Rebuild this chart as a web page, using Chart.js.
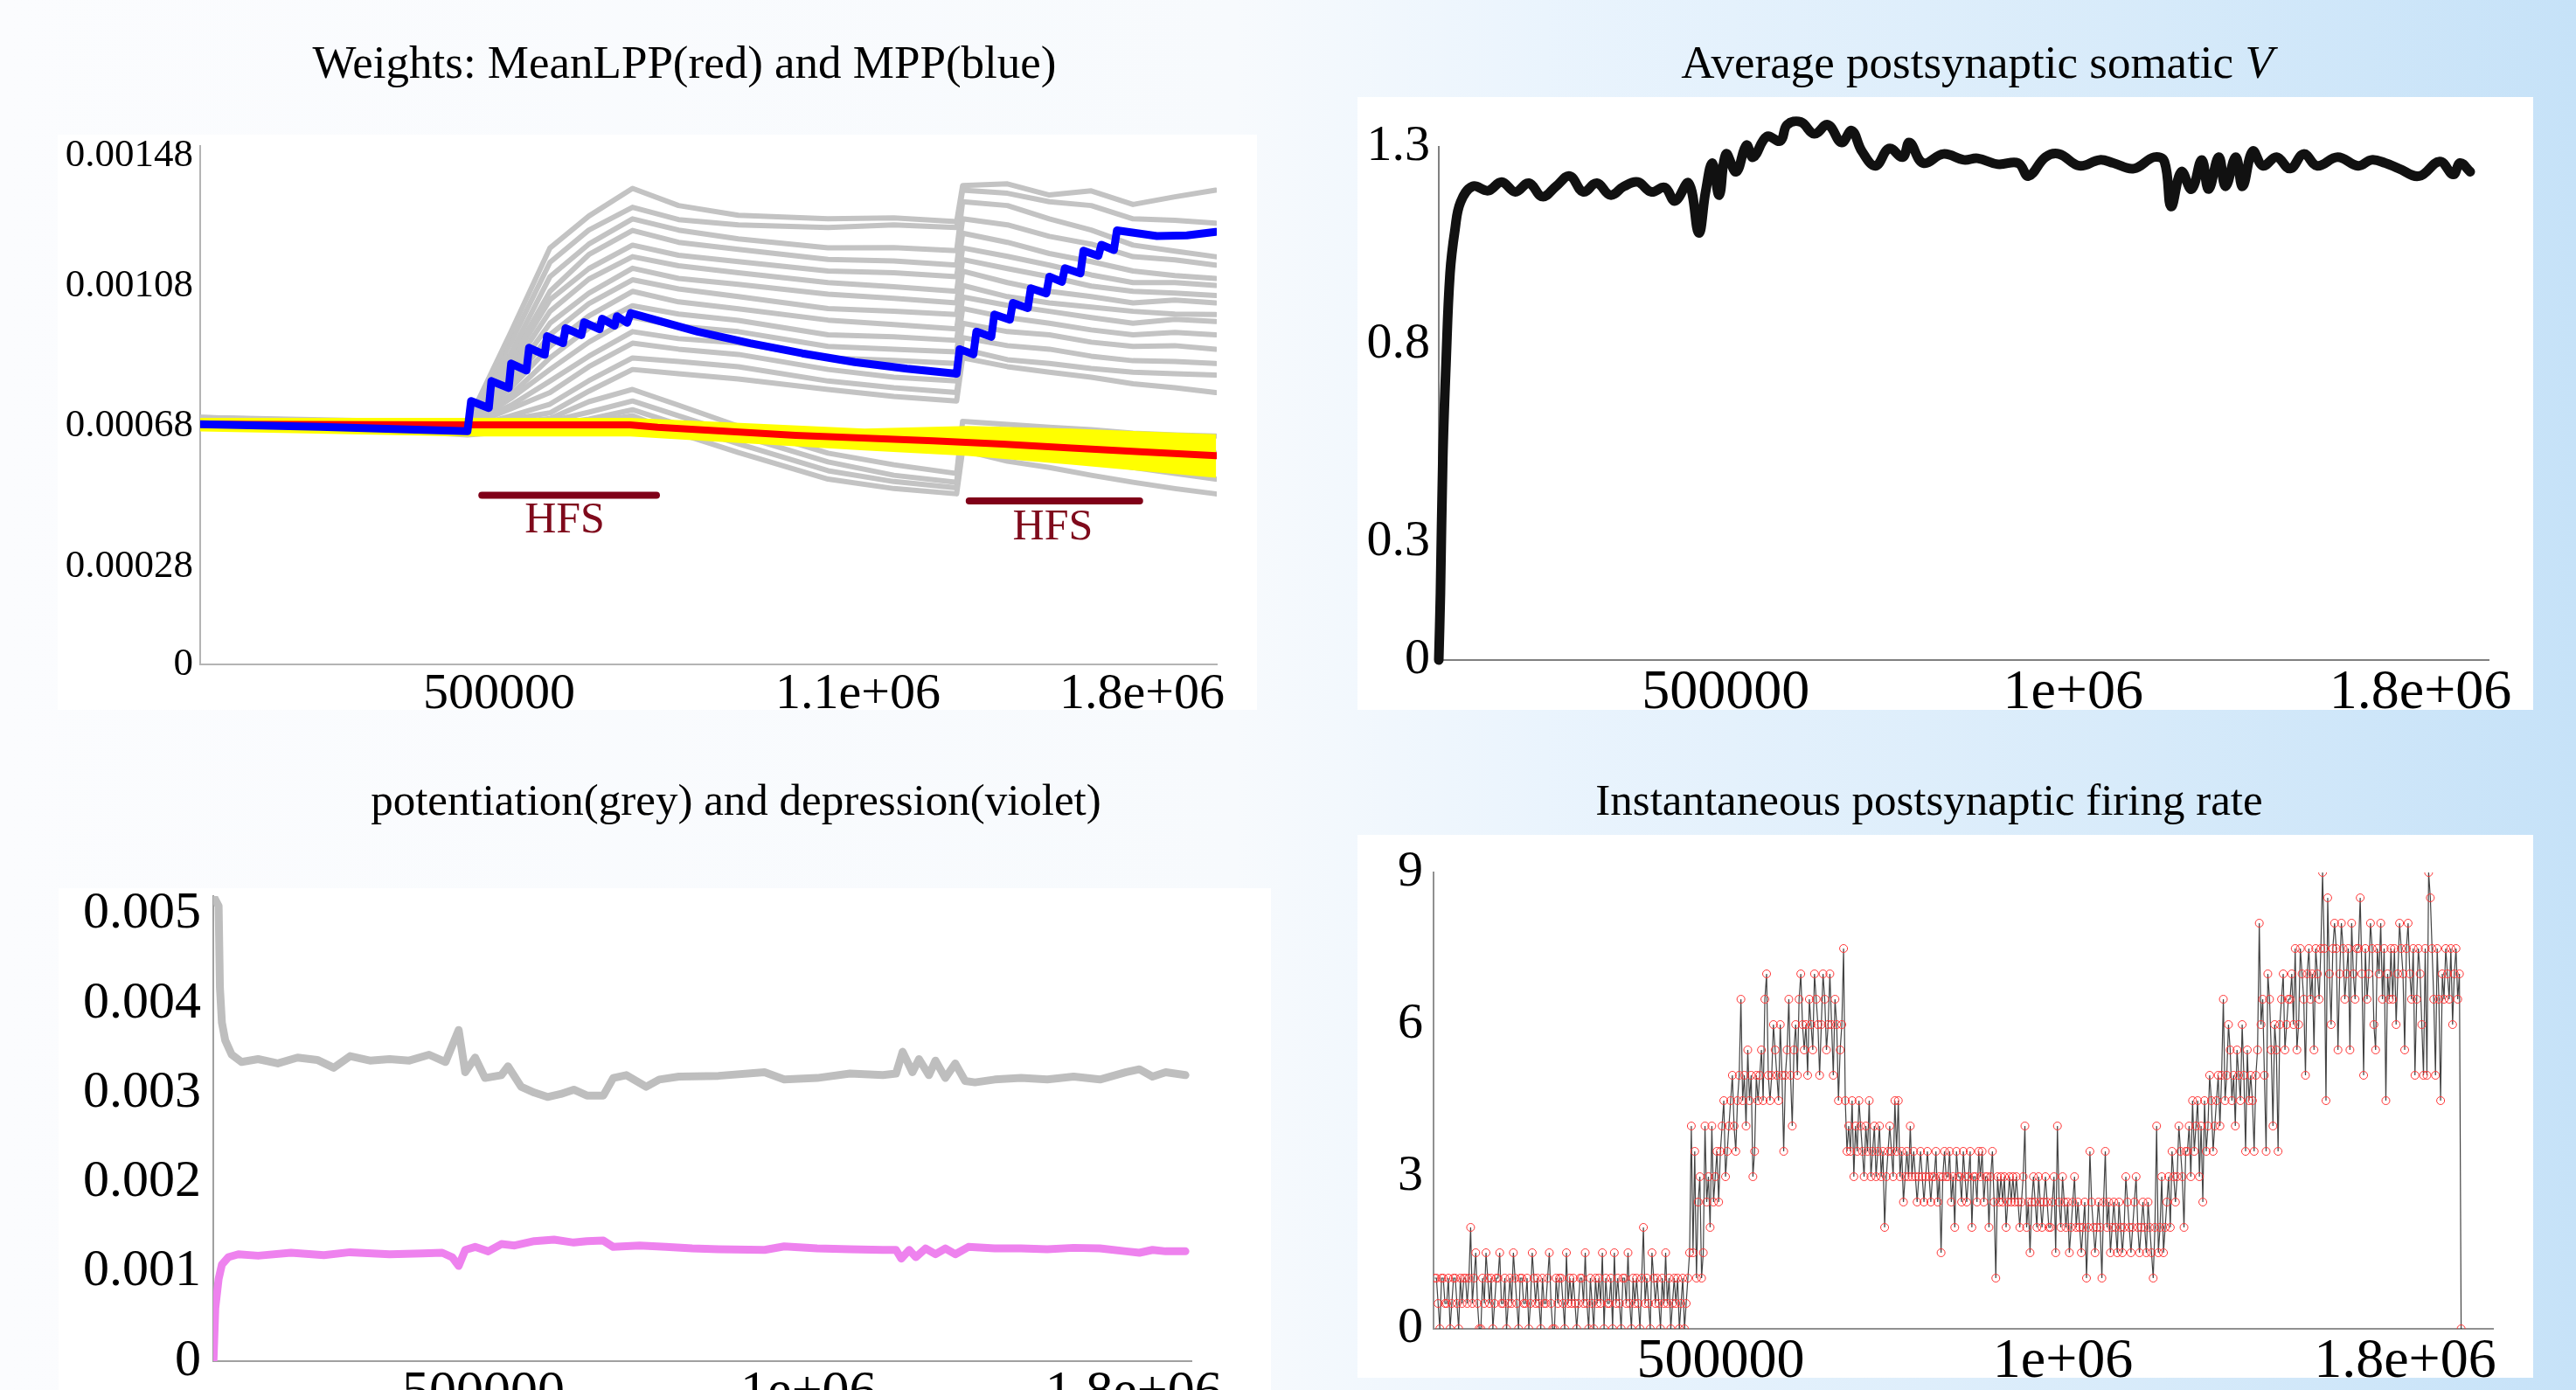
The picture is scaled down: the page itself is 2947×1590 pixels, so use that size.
<!DOCTYPE html>
<html>
<head>
<meta charset="utf-8">
<script src="https://cdn.jsdelivr.net/npm/chart.js@4.4.1/dist/chart.umd.min.js"></script>
<style>
  body {
    margin: 0; width: 2947px; height: 1590px; overflow: hidden; position: relative;
    background: linear-gradient(90deg, #fbfcfe 0%, #f7fafd 48%, #eaf4fd 60%, #d8ebfa 82%, #c6e2f8 100%);
    font-family: 'Liberation Serif', 'Times New Roman', serif;
  }
  .title { position: absolute; width: 1400px; text-align: center; line-height: 52px; color: #000; white-space: nowrap; }
  canvas { position: absolute; background: #fff; }
</style>
</head>
<body>
<div class="title" style="left:83px; top:45px; font-size:53px">Weights: MeanLPP(red) and MPP(blue)</div>
<div class="title" style="left:1562px; top:45px; font-size:53px">Average postsynaptic somatic <i>V</i></div>
<div class="title" style="left:142px; top:889px; font-size:51px">potentiation(grey) and depression(violet)</div>
<div class="title" style="left:1507px; top:889px; font-size:51px">Instantaneous postsynaptic firing rate</div>

<canvas id="weights" width="1372" height="658" style="left:66px; top:154px"></canvas>
<canvas id="somatic" width="1345" height="701" style="left:1553px; top:111px"></canvas>
<canvas id="plasticity" width="1387" height="594" style="left:67px; top:1016px"></canvas>
<canvas id="firing" width="1345" height="621" style="left:1553px; top:955px"></canvas>

<script>
// ---- weights panel ----
const weightTicks = [0.00028, 0.00068, 0.00108, 0.001452, 0]
const weightTickLabels = ['0.00028', '0.00068', '0.00108', '0.00148', '0']
const weightTimeTicks = [500000, 1100000, 1575000]
const weightTimeLabels = ['500000', '1.1e+06', '1.8e+06']

const blueTime = [0, 200000, 447000, 453000, 482700, 487000, 515900, 520000, 545600, 550000,
  576200, 580000, 606800, 611000, 637500, 642000, 668000, 672000, 693000, 697000,
  714000, 720000, 832000, 919800, 1007000, 1094700, 1182000, 1265000, 1270000, 1293000,
  1298000, 1323000, 1328000, 1354000, 1359000, 1384000, 1389000, 1415000, 1420000, 1441000,
  1446000, 1472000, 1477000, 1502000, 1507000, 1528000, 1533000, 1600000, 1650000, 1698000]
const blueWeight = [0.000686, 0.000678, 0.000666, 0.000752, 0.000732, 0.000809, 0.000789, 0.000859, 0.000839, 0.000904,
  0.000884, 0.000937, 0.000917, 0.00096, 0.00094, 0.000977, 0.000957, 0.000987, 0.000967, 0.000994,
  0.000975, 0.001003, 0.00095, 0.000917, 0.000888, 0.000863, 0.000844, 0.00083, 0.0009, 0.000885,
  0.00095, 0.000935, 0.000999, 0.000984, 0.001032, 0.001017, 0.001074, 0.001059, 0.001107, 0.001092,
  0.001131, 0.001116, 0.001181, 0.001166, 0.001198, 0.001183, 0.001239, 0.001223, 0.001225, 0.001235]

const redTime = [0, 447000, 719000, 765000, 995600, 1226000, 1342000, 1457000, 1572000, 1699000]
const redWeight = [0.000686, 0.000684, 0.000684, 0.000677, 0.000654, 0.000638, 0.000629, 0.000618, 0.000607, 0.000596]

const bandTime = [0, 447000, 719000, 1111000, 1284000, 1457000, 1699000]
const bandUpper = [0.000704, 0.000704, 0.000704, 0.000673, 0.000681, 0.000673, 0.000657]
const bandLower = [0.000665, 0.000651, 0.000651, 0.000611, 0.000595, 0.00057, 0.000533]

const grayTime = [0, 447000, 520000, 585000, 650000, 723000, 800000, 900000, 1050000,
  1160000, 1265000, 1275000, 1350000, 1420000, 1490000, 1560000, 1630000, 1698000]
const grayLines = [
  [0.0007, 0.00069, 0.00095, 0.001189, 0.00128, 0.001359, 0.00131, 0.001282, 0.001272, 0.001275, 0.001264, 0.001367, 0.001372, 0.00134, 0.001352, 0.001313, 0.001335, 0.001354],
  [0.000705, 0.00069, 0.00092, 0.001148, 0.00124, 0.001305, 0.00127, 0.001255, 0.001247, 0.001255, 0.001247, 0.001354, 0.001345, 0.001321, 0.00131, 0.001272, 0.001268, 0.00126],
  [0.0007, 0.00069, 0.00089, 0.001107, 0.0012, 0.001272, 0.00124, 0.001215, 0.001189, 0.00119, 0.001181, 0.001321, 0.00131, 0.001272, 0.00124, 0.001197, 0.00118, 0.001164],
  [0.000695, 0.00069, 0.00087, 0.001065, 0.00117, 0.001239, 0.001205, 0.001185, 0.001156, 0.001152, 0.00114, 0.001272, 0.001255, 0.001222, 0.0012, 0.001164, 0.001155, 0.00114],
  [0.0007, 0.00069, 0.00086, 0.001041, 0.00113, 0.001197, 0.001168, 0.00115, 0.001123, 0.001118, 0.001107, 0.001231, 0.001205, 0.001173, 0.00115, 0.001123, 0.00111, 0.001102],
  [0.0007, 0.00069, 0.00084, 0.001008, 0.0011, 0.001164, 0.001138, 0.001118, 0.00109, 0.001078, 0.001065, 0.001189, 0.001165, 0.00114, 0.001112, 0.00109, 0.00109, 0.001082],
  [0.000705, 0.000685, 0.00082, 0.000974, 0.00106, 0.001131, 0.001102, 0.001085, 0.001057, 0.001045, 0.001032, 0.001156, 0.00113, 0.001107, 0.00108, 0.001065, 0.00106, 0.001053],
  [0.0007, 0.000685, 0.0008, 0.000941, 0.00103, 0.001098, 0.001072, 0.00105, 0.001016, 0.001008, 0.000999, 0.001123, 0.00109, 0.001065, 0.00105, 0.001032, 0.00104, 0.001032],
  [0.0007, 0.000685, 0.00079, 0.000908, 0.000995, 0.001065, 0.001035, 0.001015, 0.000983, 0.00097, 0.000958, 0.001082, 0.00105, 0.001032, 0.00102, 0.001008, 0.001, 0.000999],
  [0.000695, 0.000685, 0.00077, 0.000875, 0.00096, 0.001024, 0.001, 0.000982, 0.000941, 0.000935, 0.000925, 0.001049, 0.001025, 0.001008, 0.00099, 0.000974, 0.000985, 0.000979],
  [0.0007, 0.00068, 0.00076, 0.000842, 0.00092, 0.000991, 0.000965, 0.00095, 0.000908, 0.0009, 0.000892, 0.001016, 0.00099, 0.000974, 0.000955, 0.000941, 0.000948, 0.000941],
  [0.0007, 0.00068, 0.00074, 0.000809, 0.00088, 0.00095, 0.00093, 0.000918, 0.000875, 0.000868, 0.000859, 0.000974, 0.00095, 0.000941, 0.00092, 0.000908, 0.00091, 0.0009],
  [0.000705, 0.00068, 0.00073, 0.000776, 0.00085, 0.000917, 0.0009, 0.000885, 0.000842, 0.00082, 0.000809, 0.000933, 0.00091, 0.0009, 0.00088, 0.000867, 0.000865, 0.000859],
  [0.0007, 0.000675, 0.00071, 0.000743, 0.00081, 0.000875, 0.000865, 0.00085, 0.000809, 0.00079, 0.000776, 0.0009, 0.00087, 0.000859, 0.000845, 0.000834, 0.00083, 0.000826],
  [0.0007, 0.000675, 0.0007, 0.000718, 0.00078, 0.000842, 0.00083, 0.000815, 0.000785, 0.000765, 0.000752, 0.000875, 0.00085, 0.000834, 0.00082, 0.000801, 0.00079, 0.000776],
  [0.0007, 0.00067, 0.00069, 0.000702, 0.00075, 0.000785, 0.00074, 0.00068, 0.000603, 0.00057, 0.000545, 0.000694, 0.000685, 0.000677, 0.00067, 0.00066, 0.000655, 0.000652],
  [0.000695, 0.000665, 0.00068, 0.000694, 0.00072, 0.000752, 0.00071, 0.000655, 0.000578, 0.00054, 0.00052, 0.000669, 0.000655, 0.000644, 0.00063, 0.000619, 0.00061, 0.000603],
  [0.0007, 0.00066, 0.00067, 0.000685, 0.0007, 0.000727, 0.000685, 0.00063, 0.000553, 0.000522, 0.000504, 0.000644, 0.00062, 0.000603, 0.00058, 0.000562, 0.000545, 0.000529],
  [0.0007, 0.000655, 0.000665, 0.000677, 0.00069, 0.00071, 0.00066, 0.000605, 0.000529, 0.000502, 0.000487, 0.000611, 0.00058, 0.000562, 0.00054, 0.00052, 0.000502, 0.000487]
]

const hfsLabels = ['HFS', 'HFS']
const hfsStart = [471000, 1286000]
const hfsEnd = [763000, 1571000]
const hfsLevel = [0.000483, 0.000467]
const hfsTextTime = [609600, 1425800]
const hfsTextLevel = [0.000409, 0.00039]

// ---- somatic V panel ----
const vTicks = [0, 0.3, 0.8, 1.3]
const vTickLabels = ['0', '0.3', '0.8', '1.3']
const timeTicks = [500000, 1000000, 1500000]
const timeTickLabels = ['500000', '1e+06', '1.8e+06']

const vTime = [87000, 89400, 92800, 97400, 103200, 110300, 118300, 135800, 158000, 177500,
  197100, 216700, 236200, 255800, 275400, 294900, 314500, 334100, 353600, 373200,
  392800, 412300, 427000, 446600, 461200, 471000, 480800, 490600, 500400, 515000,
  529700, 539500, 559100, 578600, 588400, 608000, 627500, 647100, 666700, 681400,
  696000, 715600, 735200, 754700, 764500, 784100, 813400, 842800, 862400, 891700,
  921000, 935700, 960200, 979700, 1009000, 1038400, 1058000, 1087300, 1116700, 1131400,
  1141100, 1155800, 1170500, 1185200, 1195000, 1209600, 1219400, 1234100, 1243900, 1258500,
  1273200, 1292800, 1312400, 1331900, 1351500, 1380800, 1410200, 1429700, 1449300, 1468900,
  1498200, 1527600, 1547200, 1557000, 1571600]
const vSomatic = [0, 0.17, 0.51, 0.75, 0.98, 1.09, 1.16, 1.2, 1.189, 1.211,
  1.186, 1.208, 1.174, 1.2, 1.226, 1.186, 1.208, 1.178, 1.2, 1.211,
  1.186, 1.197, 1.163, 1.208, 1.082, 1.186, 1.259, 1.178, 1.282, 1.237,
  1.304, 1.274, 1.326, 1.315, 1.356, 1.363, 1.333, 1.356, 1.311, 1.341,
  1.289, 1.252, 1.296, 1.274, 1.311, 1.259, 1.282, 1.267, 1.271, 1.256,
  1.259, 1.226, 1.274, 1.282, 1.252, 1.267, 1.259, 1.245, 1.274, 1.263,
  1.149, 1.237, 1.193, 1.267, 1.193, 1.274, 1.2, 1.274, 1.2, 1.289,
  1.252, 1.274, 1.245, 1.282, 1.252, 1.274, 1.252, 1.267, 1.259, 1.245,
  1.226, 1.263, 1.23, 1.259, 1.237]

// ---- potentiation / depression panel ----
const plastTicks = [0, 0.001, 0.002, 0.003, 0.004, 0.005]
const plastTickLabels = ['0', '0.001', '0.002', '0.003', '0.004', '0.005']

const potTime = [84800, 92900, 94900, 97960, 103000, 113100, 128300, 153600, 184000, 214300,
  244600, 269900, 295200, 325500, 355900, 386200, 416600, 441900, 462100, 472200,
  487400, 502600, 527800, 538000, 558200, 578400, 598700, 618900, 639100, 659300,
  684600, 699800, 720000, 750400, 770600, 800900, 861600, 932500, 962800, 1013400,
  1064000, 1114500, 1134700, 1144900, 1160000, 1170100, 1185300, 1195400, 1210600, 1225800,
  1241000, 1256100, 1286500, 1327000, 1367400, 1407900, 1448300, 1488800, 1509000, 1529200,
  1549500, 1579800]
const potValue = [0.0052, 0.00509, 0.004175, 0.003785, 0.003589, 0.003426, 0.003345, 0.003377, 0.003329, 0.003394,
  0.003368, 0.00328, 0.00341, 0.003361, 0.003377, 0.003361, 0.003426, 0.003345, 0.003703, 0.003231,
  0.003394, 0.003166, 0.003198, 0.003296, 0.003068, 0.003003, 0.002954, 0.002987, 0.003036, 0.00297,
  0.00297, 0.003166, 0.003198, 0.003068, 0.003149, 0.003182, 0.00319, 0.003231, 0.003149, 0.003166,
  0.003215, 0.003198, 0.003215, 0.003459, 0.003231, 0.003377, 0.003198, 0.003361, 0.003166, 0.003329,
  0.003133, 0.003117, 0.003149, 0.003166, 0.003149, 0.003182, 0.003149, 0.003231, 0.003263, 0.003182,
  0.003231, 0.003198]

const depTime = [85000, 87800, 92900, 97960, 108000, 123200, 153600, 204200, 254700, 295200,
  355900, 406500, 436800, 452000, 462100, 472200, 487400, 507600, 527800, 548100,
  578400, 608800, 639100, 659300, 684600, 699800, 740300, 780700, 821200, 861600,
  932500, 962800, 1013400, 1064000, 1114500, 1134700, 1142800, 1155000, 1165100, 1180200,
  1195400, 1210600, 1225800, 1246000, 1286500, 1327000, 1367400, 1407900, 1448300, 1488800,
  1509000, 1529200, 1549500, 1579800]
const depValue = [0, 0.000593, 0.000918, 0.001081, 0.001163, 0.001195, 0.001179, 0.001212, 0.001186, 0.001218,
  0.001195, 0.001205, 0.001212, 0.001163, 0.001065, 0.001244, 0.001277, 0.001228, 0.001309, 0.001293,
  0.001342, 0.001358, 0.001326, 0.001342, 0.001348, 0.001277, 0.001293, 0.001277, 0.00126, 0.001251,
  0.001244, 0.001283, 0.00126, 0.001251, 0.001244, 0.001244, 0.001146, 0.001244, 0.001163, 0.00126,
  0.001195, 0.00126, 0.001195, 0.001277, 0.00126, 0.00126, 0.001251, 0.001267, 0.00126, 0.001228,
  0.001212, 0.001244, 0.001228, 0.001228]

// ---- firing rate panel (one sample every rateStep, one row = 50000) ----
const rateTicks = [0, 3, 6, 9]
const rateTickLabels = ['0', '3', '6', '9']
const rateStart = 82000
const rateStep = 2500
const rateValue = [
  1, 1, 0.5, 0, 1, 1, 0.5, 0.5, 1, 0, 0.5, 1, 1, 0.5, 0, 1, 0.5, 1, 1, 0.5,
  1, 2, 0.5, 1, 1.5, 0.5, 0, 0, 1, 0.5, 1.5, 1, 0.5, 1, 0, 0.5, 1, 1, 1.5, 0.5,
  0.5, 1, 0, 0.5, 1, 0.5, 1.5, 1, 0.5, 0, 1, 1, 0.5, 0.5, 1, 0, 0.5, 1.5, 1, 0.5,
  1, 0.5, 0, 1, 0.5, 0.5, 1, 1.5, 0.5, 0, 0, 1, 0.5, 1, 1, 0.5, 0, 1.5, 0.5, 1,
  0.5, 1, 0.5, 0, 0.5, 1, 1, 0.5, 1.5, 0.5, 0, 1, 0.5, 0, 1, 0.5, 1, 0.5, 1.5, 0,
  1, 0.5, 0.5, 1, 0, 1.5, 0.5, 1, 0.5, 0, 1, 1, 0.5, 1.5, 0.5, 0, 1, 0.5, 1, 0.5,
  0, 1, 2, 0.5, 1, 0.5, 0, 1.5, 1, 0.5, 1, 0.5, 0, 1, 0.5, 1.5, 0.5, 1, 0, 0.5,
  1, 0.5, 1, 0, 0.5, 1, 0, 0.5, 1, 1.5, 4, 1.5, 3.5, 1, 2.5, 3, 1, 1.5, 4, 2.5,
  3, 2, 4, 2.5, 3, 3.5, 2.5, 3.5, 4, 4.5, 3, 3.5, 4, 4.5, 5, 4, 3.5, 4.5, 5, 6.5,
  4.5, 5, 4, 5.5, 4.5, 5, 3, 3.5, 5, 4.5, 5, 5.5, 4.5, 6.5, 7, 5, 4.5, 5, 6, 5.5,
  5, 4.5, 6, 5, 3.5, 5, 5.5, 6.5, 5, 4, 5.5, 6, 5, 6.5, 7, 6, 5.5, 6, 5, 6.5,
  6, 5.5, 7, 6.5, 6, 5, 6, 7, 6.5, 5.5, 6, 7, 6, 5, 6.5, 6, 4.5, 5.5, 6, 7.5,
  4.5, 3.5, 4, 3.5, 4.5, 3, 4, 3.5, 4.5, 4, 3.5, 3, 4, 3.5, 4.5, 3, 3.5, 4, 3, 3.5,
  4, 3, 3.5, 2, 3, 3.5, 4, 3.5, 3, 4.5, 3.5, 4.5, 3, 3.5, 2.5, 3, 3.5, 3, 4, 3,
  3.5, 3, 2.5, 3, 3.5, 3, 2.5, 3, 3.5, 3, 2.5, 3, 3, 3.5, 2.5, 3, 1.5, 3, 3.5, 3,
  3, 3.5, 2.5, 3, 2, 3.5, 3, 3, 2.5, 3.5, 3, 2.5, 3, 3.5, 2, 3, 3, 2.5, 3.5, 3,
  3.5, 2.5, 3, 3, 2, 3, 3.5, 2.5, 1, 3, 2.5, 3, 2.5, 3, 2, 2.5, 3, 2.5, 3, 2.5,
  3, 2.5, 2, 2.5, 3, 4, 2, 2.5, 1.5, 2.5, 3, 2.5, 2, 3, 2.5, 2, 2.5, 3, 2.5, 2,
  2, 2.5, 3, 1.5, 4, 2.5, 2, 3, 2.5, 2, 2.5, 1.5, 2, 2.5, 3, 2, 2.5, 2, 1.5, 2,
  2.5, 1, 2, 3.5, 2.5, 2, 1.5, 2, 2.5, 2, 1, 2.5, 3.5, 2, 2.5, 1.5, 2, 2.5, 2, 1.5,
  2.5, 2, 1.5, 2, 3, 2.5, 2, 1.5, 2, 2.5, 3, 2, 1.5, 2, 2.5, 2, 1.5, 2.5, 2, 1.5,
  1, 2, 4, 1.5, 2, 3, 1.5, 2, 2.5, 3, 2, 3.5, 3, 2.5, 3, 4, 3.5, 3, 2, 3.5,
  3.5, 4, 3, 4.5, 3.5, 4, 4.5, 3, 4, 2.5, 4.5, 3.5, 4, 5, 4.5, 3.5, 4, 4.5, 5, 4,
  5, 6.5, 4.5, 5, 6, 5.5, 4.5, 5, 4, 5.5, 5, 4.5, 6, 5, 3.5, 5.5, 4.5, 5, 4.5, 3.5,
  5, 5.5, 8, 6, 6.5, 5, 3.5, 7, 6.5, 5.5, 4, 6, 5.5, 3.5, 6, 6.5, 7, 5.5, 6, 6.5,
  6.5, 7, 6, 7.5, 5.5, 6, 7.5, 7, 6.5, 5, 7, 7.5, 6.5, 7, 5.5, 7.5, 7, 6.5, 7.5, 9,
  7.5, 4.5, 8.5, 7, 6, 7.5, 8, 7.5, 5.5, 7, 8, 7.5, 6.5, 7, 7.5, 5.5, 8, 7, 6.5, 7.5,
  7.5, 8.5, 7, 5, 7.5, 6.5, 7, 8, 7.5, 6, 5.5, 7.5, 7, 8, 6.5, 7.5, 4.5, 7, 6.5, 7.5,
  6.5, 7.5, 6, 7, 8, 7.5, 7, 5.5, 7.5, 8, 7, 6.5, 7.5, 5, 6.5, 7.5, 7, 6, 5, 7.5,
  5, 9, 8.5, 7.5, 6.5, 5, 7.5, 6.5, 4.5, 7, 6.5, 7.5, 7, 6.5, 7.5, 6, 7, 7.5, 6.5, 7,
  0
]
const rateTime = rateValue.map((v, i) => rateStart + rateStep * i)

// ---- helpers ----
Chart.defaults.font.family = "'Liberation Serif', 'Times New Roman', serif"
Chart.defaults.color = '#000'
Chart.defaults.animation = false
Chart.defaults.plugins.legend.display = false
Chart.defaults.plugins.tooltip.enabled = false

const pairs = (xs, ys) => xs.map((x, i) => ({ x: x, y: ys[i] }))

const axis = (o) => ({
  type: 'linear',
  min: o.min,
  max: o.max,
  grid: { display: false, drawTicks: false },
  border: { display: true, color: o.color, width: 2 },
  afterBuildTicks: (scale) => { scale.ticks = o.ticks.map(v => ({ value: v })) },
  afterFit: (scale) => {
    if (o.width) scale.width = o.width
    if (o.height) scale.height = o.height
    // keep the plot area where the layout padding puts it
    scale.paddingTop = 0
    scale.paddingBottom = 0
    scale.paddingLeft = 0
    scale.paddingRight = 0
  },
  ticks: {
    autoSkip: false, maxRotation: 0, minRotation: 0,
    padding: o.pad, color: '#000',
    font: { size: o.size },
    callback: (v, i) => o.labels[i]
  }
})

const line = (data, color, width, extra) => Object.assign({
  data: data, borderColor: color, borderWidth: width,
  pointRadius: 0, fill: false, tension: 0,
  borderJoinStyle: 'round', borderCapStyle: 'round'
}, extra || {})

const hfsText = {
  id: 'hfsText',
  afterDatasetsDraw(chart) {
    const ctx = chart.ctx
    const xs = chart.scales.x
    const ys = chart.scales.y
    ctx.save()
    ctx.font = "50px 'Liberation Serif'"
    ctx.fillStyle = '#7f0a1c'
    ctx.textAlign = 'center'
    ctx.textBaseline = 'middle'
    hfsLabels.forEach((t, i) => {
      ctx.fillText(t, xs.getPixelForValue(hfsTextTime[i]), ys.getPixelForValue(hfsTextLevel[i]))
    })
    ctx.restore()
  }
}

// ---- chart 1: weights ----
const weightSets = [
  line(pairs(blueTime, blueWeight), '#0000ff', 9),
  line(pairs(redTime, redWeight), '#ff0000', 8)
]
hfsStart.forEach((s, i) => {
  weightSets.push(line([{ x: s, y: hfsLevel[i] }, { x: hfsEnd[i], y: hfsLevel[i] }], '#800018', 8))
})
weightSets.push(line(pairs(bandTime, bandUpper), 'rgba(0,0,0,0)', 0, { fill: '+1', backgroundColor: '#ffff00' }))
weightSets.push(line(pairs(bandTime, bandLower), 'rgba(0,0,0,0)', 0))
grayLines.forEach(g => weightSets.push(line(pairs(grayTime, g), '#c3c3c3', 6)))

new Chart(document.getElementById('weights'), {
  type: 'line',
  data: { datasets: weightSets },
  options: {
    responsive: false, devicePixelRatio: 1,
    layout: { padding: { left: 0, right: 46, top: 13, bottom: 0 } },
    scales: {
      x: axis({ min: 0, max: 1700000, ticks: weightTimeTicks, labels: weightTimeLabels, color: '#b4b4b4', size: 58, pad: 0, height: 52 }),
      y: axis({ min: 0, max: 0.00148, ticks: weightTicks, labels: weightTickLabels, color: '#b4b4b4', size: 45, pad: 8, width: 163 })
    }
  },
  plugins: [hfsText]
})

// ---- chart 2: somatic V ----
new Chart(document.getElementById('somatic'), {
  type: 'line',
  data: { datasets: [line(pairs(vTime, vSomatic), '#111111', 11, { tension: 0.4, clip: false })] },
  options: {
    responsive: false, devicePixelRatio: 1,
    layout: { padding: { left: 0, right: 51, top: 57, bottom: 0 } },
    scales: {
      x: axis({ min: 87000, max: 1598000, ticks: timeTicks, labels: timeTickLabels, color: '#808080', size: 64, pad: 0, height: 57 }),
      y: axis({ min: 0, max: 1.3, ticks: vTicks, labels: vTickLabels, color: '#808080', size: 58, pad: 10, width: 93 })
    }
  }
})

// ---- chart 3: potentiation / depression ----
new Chart(document.getElementById('plasticity'), {
  type: 'line',
  data: {
    datasets: [
      line(pairs(depTime, depValue), '#ee82ee', 9),
      line(pairs(potTime, potValue), '#bebebe', 9)
    ]
  },
  options: {
    responsive: false, devicePixelRatio: 1,
    layout: { padding: { left: 0, right: 91, top: 9, bottom: 0 } },
    scales: {
      x: axis({ min: 84700, max: 1589000, ticks: timeTicks, labels: timeTickLabels, color: '#a0a0a0', size: 62, pad: 0, height: 53 }),
      y: axis({ min: 0, max: 0.0052, ticks: plastTicks, labels: plastTickLabels, color: '#a0a0a0', size: 60, pad: 14, width: 177 })
    }
  }
})

// ---- chart 4: firing rate ----
new Chart(document.getElementById('firing'), {
  type: 'line',
  data: {
    datasets: [line(pairs(rateTime, rateValue), 'rgba(20,20,20,0.8)', 1.2, {
      pointRadius: 4.5, pointStyle: 'circle', pointBorderWidth: 1,
      pointBorderColor: '#ff3535', pointBackgroundColor: 'rgba(0,0,0,0)',
      borderJoinStyle: 'miter', borderCapStyle: 'butt'
    })]
  },
  options: {
    responsive: false, devicePixelRatio: 1,
    layout: { padding: { left: 0, right: 46, top: 43, bottom: 0 } },
    scales: {
      x: axis({ min: 80300, max: 1628500, ticks: timeTicks, labels: timeTickLabels, color: '#909090', size: 64, pad: 0, height: 56 }),
      y: axis({ min: 0, max: 9, ticks: rateTicks, labels: rateTickLabels, color: '#909090', size: 58, pad: 12, width: 87 })
    }
  }
})
</script>
</body>
</html>
